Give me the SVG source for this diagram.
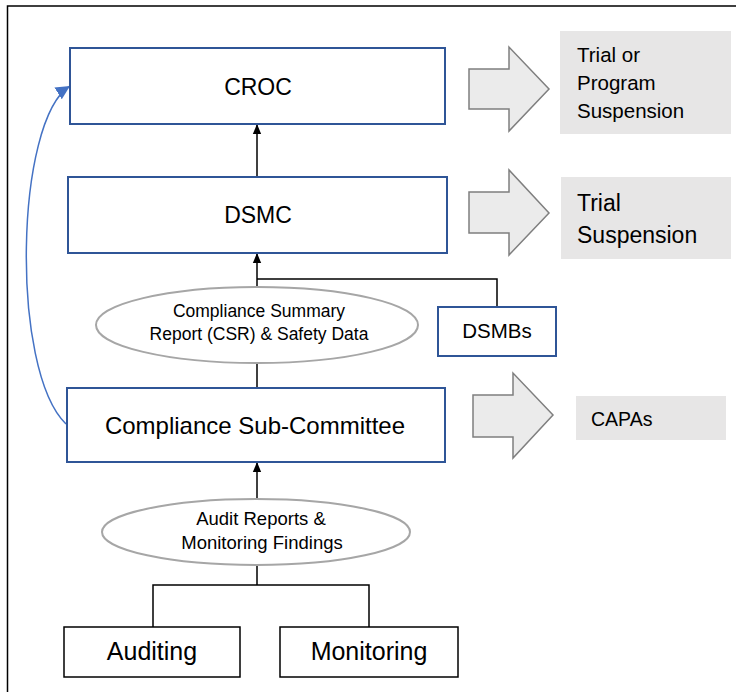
<svg xmlns="http://www.w3.org/2000/svg" width="736" height="692" viewBox="0 0 736 692">
<defs>
<style>
text{font-family:"Liberation Sans",Arial,sans-serif;fill:#000;}
.box{fill:#fff;stroke:#2f5597;stroke-width:2;}
.plain{fill:#fff;stroke:#000;stroke-width:1.5;}
.ell{fill:#fff;stroke:#a6a6a6;stroke-width:2;}
.gray{fill:#e7e6e6;stroke:none;}
.barrow{fill:#ebebeb;stroke:#7f7f7f;stroke-width:1.5;stroke-linejoin:miter;}
.conn{fill:none;stroke:#000;stroke-width:1.5;}
.blue{fill:none;stroke:#4472c4;stroke-width:1.5;}
</style>
<marker id="ah" markerWidth="10" markerHeight="12" refX="12" refY="5" orient="auto" markerUnits="userSpaceOnUse" viewBox="0 0 12 10">
<path d="M0,0 L12,5 L0,10 z" fill="#000"/>
</marker>
<marker id="ahb" markerWidth="14" markerHeight="14" refX="14" refY="7" orient="auto" markerUnits="userSpaceOnUse">
<path d="M0,0 L14,7 L0,14 z" fill="#4472c4"/>
</marker>
</defs>
<rect width="736" height="692" fill="#fff"/>
<path d="M7.5,700 V6 H740" fill="none" stroke="#000" stroke-width="1.5"/>

<g id="connectors">
<path class="conn" d="M257,177 V124" marker-end="url(#ah)"/>
<path class="conn" d="M257,287 V253" marker-end="url(#ah)"/>
<path class="conn" d="M257,279 H497 V307"/>
<path class="conn" d="M257,363 V388"/>
<path class="conn" d="M257,499 V462" marker-end="url(#ah)"/>
<path class="conn" d="M257,566 V585 M153,585 H369 M153,584.25 V627 M369,584.25 V627"/>
<path class="blue" d="M66,424 C10,370 15,120 70,86" marker-end="url(#ahb)"/>
</g>

<g id="croc">
<rect class="box" x="70" y="48" width="375" height="76"/>
<text x="258" y="95" font-size="23" text-anchor="middle">CROC</text>
</g>
<g id="dsmc">
<rect class="box" x="68" y="177" width="379" height="76"/>
<text x="258" y="223" font-size="23" text-anchor="middle">DSMC</text>
</g>
<g id="csr">
<ellipse class="ell" cx="257" cy="325" rx="161" ry="38"/>
<text x="259" y="317" font-size="17.5" text-anchor="middle">Compliance Summary</text>
<text x="259" y="340" font-size="17.5" text-anchor="middle">Report (CSR) &amp; Safety Data</text>
</g>
<g id="dsmbs">
<rect class="box" x="438" y="307" width="118" height="49"/>
<text x="497" y="338" font-size="20.5" text-anchor="middle">DSMBs</text>
</g>
<g id="csc">
<rect class="box" x="67" y="388" width="378" height="74"/>
<text x="255" y="434" font-size="24" text-anchor="middle">Compliance Sub-Committee</text>
</g>
<g id="audit-reports">
<ellipse class="ell" cx="256" cy="532" rx="154" ry="33"/>
<text x="261" y="525" font-size="18.5" text-anchor="middle">Audit Reports &amp;</text>
<text x="262" y="549" font-size="18.5" text-anchor="middle">Monitoring Findings</text>
</g>
<g id="auditing">
<rect class="plain" x="64" y="627" width="176" height="50"/>
<text x="152" y="660" font-size="25" text-anchor="middle">Auditing</text>
</g>
<g id="monitoring">
<rect class="plain" x="280" y="627" width="178" height="50"/>
<text x="369" y="660" font-size="25" text-anchor="middle">Monitoring</text>
</g>

<g id="arrow-croc">
<path class="barrow" d="M469,69 H509 V47 L549,89 L509,131 V109 H469 Z"/>
</g>
<g id="trial-program-suspension">
<rect class="gray" x="560" y="31" width="171" height="103"/>
<text x="577" y="62" font-size="20.5">Trial or</text>
<text x="577" y="90" font-size="20.5">Program</text>
<text x="577" y="118" font-size="20.5">Suspension</text>
</g>
<g id="arrow-dsmc">
<path class="barrow" d="M469,192 H509 V170 L549,213 L509,255 V233 H469 Z"/>
</g>
<g id="trial-suspension">
<rect class="gray" x="561" y="177" width="170" height="82"/>
<text x="577" y="211" font-size="23">Trial</text>
<text x="577" y="243" font-size="23">Suspension</text>
</g>
<g id="arrow-csc">
<path class="barrow" d="M473,395 H513 V373 L553,415 L513,458 V437 H473 Z"/>
</g>
<g id="capas">
<rect class="gray" x="576" y="396" width="150" height="44"/>
<text x="591" y="426" font-size="19.5">CAPAs</text>
</g>
</svg>
